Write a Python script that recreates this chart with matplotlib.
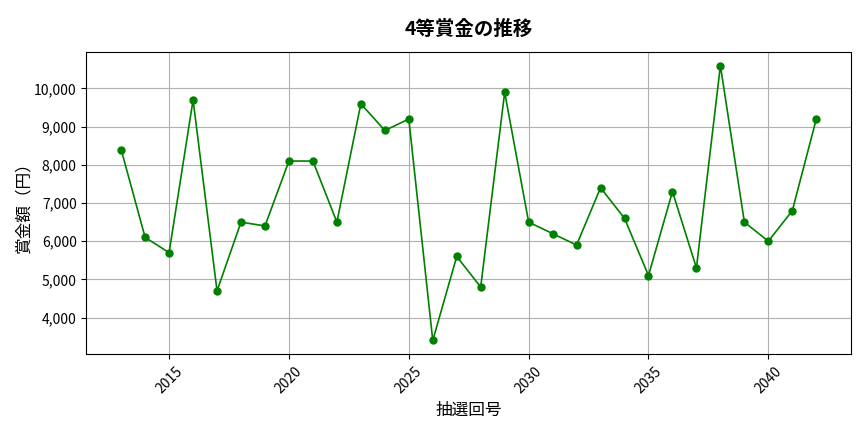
import matplotlib
matplotlib.use('Agg')
import matplotlib.pyplot as plt
from matplotlib.ticker import FuncFormatter

plt.rcParams['font.family'] = ['Noto Sans CJK JP', 'DejaVu Sans']

years = list(range(2013, 2043))
prize = [8400, 6100, 5700, 9700, 4700, 6500, 6400, 8100, 8100, 6500,
         9600, 8900, 9200, 3400, 5600, 4800, 9900, 6500, 6200, 5900,
         7400, 6600, 5100, 7300, 5300, 10600, 6500, 6000, 6800, 9200]

fig, ax = plt.subplots(figsize=(8.64, 4.32), dpi=100)
ax.plot(years, prize, marker='o', color='green', lw=1.2, ms=5)
ax.set_title('4等賞金の推移', fontsize=14, fontweight='bold', pad=12)
ax.set_xlabel('抽選回号', fontsize=12, labelpad=4)
ax.set_ylabel('賞金額（円）', fontsize=12, labelpad=1)
ax.yaxis.set_major_formatter(FuncFormatter(lambda v, p: f'{int(v):,}'))
plt.setp(ax.get_xticklabels(), rotation=45)
ax.grid(True)
fig.subplots_adjust(left=0.1, right=0.985, top=0.88, bottom=0.18)
fig.savefig('out.png')
